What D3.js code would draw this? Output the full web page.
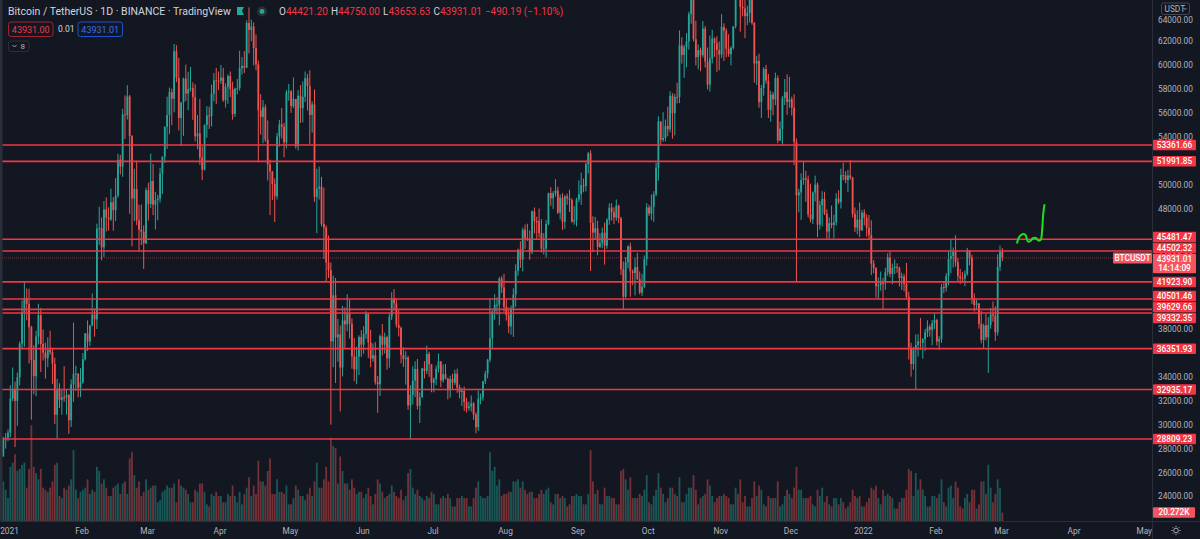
<!DOCTYPE html>
<meta charset="utf-8">
<style>
    body { margin: 0; background: #131722; }
    svg { display: block; }
    text { font-family: Roboto, "Noto Sans", sans-serif; }
    .tick-label { font-size: 8.3px; fill: #b2b5be; }
    .box-label { font-size: 8.3px; fill: #ffffff; font-weight: 500; }
    .legend { font-size: 10.5px; fill: #d1d4dc; }
</style>
<svg width="1200" height="539"></svg>
<script src="https://d3js.org/d3.v7.min.js"></script>
<script>
    // BTC/USDT daily, Binance, 30 Dec 2020 .. 2 Mar 2022 (values in thousand USDT)
    const startDay = "2020-12-30";
    const firstOpen = 27.36;

    const closes = [
        28.88, 28.92,
        29.33,32.18,33.00,31.99,33.95,36.77,39.43,40.58,40.09,38.15,35.40,34.05,37.37,39.14,36.74,36.02,35.55,36.25,36.06,35.07,30.83,33.01,32.07,32.29,32.25,32.47,30.37,33.36,34.25,34.26,33.09,
        33.53,35.47,37.62,36.94,38.29,39.19,38.80,46.37,46.42,44.81,47.97,47.29,47.15,48.58,47.91,49.13,52.12,51.55,55.91,55.84,57.41,54.09,48.89,49.68,47.07,46.28,46.11,45.14,
        49.59,48.44,50.35,48.37,48.75,48.88,50.97,52.38,54.88,55.85,57.77,57.22,61.19,58.97,55.61,56.90,58.91,57.65,58.03,58.10,57.35,54.08,54.34,52.30,51.29,55.03,55.82,55.78,57.64,58.75,58.74,
        58.72,58.98,57.09,58.22,59.12,58.02,55.95,58.05,58.10,59.77,59.96,59.83,63.55,62.97,63.25,61.46,60.09,56.25,55.70,56.51,53.81,51.73,51.15,50.11,49.08,54.06,55.07,54.88,53.58,57.75,
        57.83,56.61,57.21,53.24,57.47,56.43,57.38,58.93,58.28,55.86,56.75,49.01,49.72,49.88,46.76,46.46,43.54,42.91,36.96,40.80,37.29,37.54,34.77,38.71,38.38,39.29,38.44,35.70,34.62,35.68,37.33,
        36.69,37.57,39.25,36.86,35.52,35.80,33.55,33.38,37.39,36.68,37.31,35.55,39.02,40.52,40.14,38.35,38.09,35.82,35.48,35.60,31.61,32.51,33.68,34.66,31.58,32.28,34.70,34.49,35.91,35.05,
        33.50,33.79,34.67,35.29,33.69,34.22,33.86,32.88,33.82,33.50,34.26,33.09,32.73,32.82,31.88,31.38,31.52,31.78,30.84,29.79,32.14,32.29,33.63,34.26,35.43,37.21,39.46,40.02,40.02,42.21,41.46,
        39.85,39.15,38.21,39.72,40.86,42.84,44.61,43.79,46.29,45.59,45.51,44.40,47.81,47.01,46.99,46.00,44.70,44.71,46.76,49.34,48.91,49.32,49.55,47.71,48.96,46.94,49.06,48.90,48.77,46.97,47.10,
        48.81,49.25,50.00,49.92,51.76,52.66,46.86,46.05,46.40,44.85,45.17,46.03,44.94,47.11,48.12,47.74,47.30,48.29,47.24,42.99,40.69,43.57,44.90,42.81,42.67,43.16,42.15,41.03,41.52,43.82,
        48.14,47.63,48.20,49.22,51.47,55.32,53.79,53.95,54.95,54.66,57.47,56.01,57.37,57.35,61.67,60.88,61.53,62.01,64.28,66.00,62.19,60.69,61.29,60.85,63.08,60.33,58.41,60.58,62.25,61.86,61.30,
        60.91,63.22,62.90,61.40,60.94,61.47,63.27,67.53,66.95,64.88,64.77,64.12,64.38,65.47,63.56,60.16,60.37,56.94,58.12,59.70,58.73,56.29,57.57,57.17,58.96,53.73,54.72,57.27,57.78,56.95,
        57.18,56.48,53.60,49.15,49.40,50.44,50.59,50.47,47.55,47.14,49.39,50.05,46.70,48.34,48.86,47.63,46.13,46.83,46.68,46.91,48.89,48.59,50.84,50.82,50.43,50.81,50.64,47.59,46.46,47.12,46.22,
        47.72,47.29,46.45,45.83,43.45,43.08,41.57,41.68,41.86,41.82,42.74,43.95,42.59,43.10,43.18,43.11,42.25,42.37,41.74,40.68,36.45,35.07,36.28,36.65,36.95,36.85,37.14,37.71,38.17,37.92,38.50,
        38.74,36.95,37.15,41.50,41.44,42.41,43.84,44.08,44.44,43.57,42.41,42.24,42.20,42.59,44.58,43.96,40.54,40.00,40.12,38.43,37.08,38.29,37.30,38.33,39.21,39.11,37.71,43.19,
        44.4212, 43.93101
    ];

    const highs = [
        28.99, 29.30,
        29.60,33.30,34.78,33.60,34.36,36.94,40.37,41.95,41.38,41.35,38.26,36.63,37.85,40.10,39.75,37.95,36.85,37.30,37.85,36.42,35.60,33.83,33.46,32.94,34.88,32.92,32.56,33.78,38.53,34.93,34.29,
        34.72,35.98,37.66,38.71,38.31,40.96,39.70,46.79,48.20,47.31,48.68,48.98,48.15,49.71,49.00,50.60,52.62,52.53,56.37,57.50,58.35,57.53,54.18,51.37,52.04,48.37,48.39,46.64,
        49.79,50.20,52.64,51.77,49.45,49.20,51.45,52.40,54.90,57.39,58.15,58.06,61.79,61.69,60.63,56.94,58.98,60.07,59.47,59.88,58.59,58.43,55.86,57.20,53.25,55.08,56.60,56.56,58.40,59.37,59.80,
        59.49,60.04,59.79,58.50,59.25,59.50,58.65,58.15,58.87,61.22,60.69,61.20,63.77,64.85,63.82,63.59,62.57,60.41,57.60,57.11,56.75,55.41,52.13,51.17,50.57,54.36,55.46,56.43,55.20,57.96,
        58.46,57.95,59.00,57.20,57.94,58.36,58.65,59.50,59.30,59.60,57.00,58.00,51.37,51.56,50.70,49.80,46.64,45.80,43.55,42.45,42.25,38.83,38.27,39.92,39.80,40.90,40.41,38.87,37.24,36.49,37.47,
        37.90,38.23,39.48,39.29,37.92,36.79,36.90,34.07,37.53,38.40,37.69,37.44,39.32,41.06,41.33,40.53,39.56,38.20,36.46,36.14,35.75,33.30,34.88,35.30,35.49,32.70,34.75,35.30,36.60,36.10,
        35.04,33.94,34.95,35.94,35.29,35.04,35.06,33.92,34.10,34.26,34.59,34.68,33.34,33.11,33.18,32.25,31.94,32.44,31.90,31.03,32.86,32.60,33.65,34.50,35.50,40.55,39.54,40.90,40.64,42.32,42.41,
        42.60,40.45,39.78,39.95,41.38,43.39,44.70,45.31,46.46,46.72,46.78,46.22,47.89,48.14,47.37,48.05,47.16,46.00,47.08,49.38,49.83,49.50,50.50,49.88,49.23,49.34,49.17,49.30,49.63,48.91,48.25,
        48.95,50.40,51.05,50.56,51.90,52.78,52.92,47.40,47.35,47.03,45.99,46.46,46.88,47.25,48.48,48.50,48.16,48.81,48.37,47.35,43.64,44.00,44.98,45.20,42.97,43.94,44.35,42.79,42.60,44.13,
        48.50,48.36,49.23,49.50,51.89,55.75,55.33,56.10,55.49,56.56,57.84,57.68,57.63,58.55,62.93,62.35,61.72,62.70,64.49,67.00,66.64,63.73,61.75,61.49,63.71,63.29,61.50,62.50,62.98,62.35,62.44,
        62.00,64.27,63.52,63.09,62.60,61.60,63.29,67.79,68.53,69.00,65.58,65.46,64.99,65.50,66.40,63.62,60.80,60.98,58.37,59.86,60.05,59.29,57.88,57.77,59.40,59.18,55.33,57.45,58.87,59.25,
        59.05,57.40,57.60,53.90,49.70,51.00,51.94,51.20,50.80,50.13,49.48,50.80,50.22,48.70,49.50,49.45,47.99,47.31,48.30,47.54,49.33,49.58,51.38,51.87,51.16,51.28,52.09,50.70,48.14,47.90,48.55,
        47.94,47.99,47.57,47.51,47.07,43.75,43.15,42.30,42.79,42.25,43.10,44.32,44.46,43.45,43.80,43.48,43.20,42.70,42.59,43.51,41.10,36.84,36.50,37.55,37.55,38.92,37.23,38.00,38.72,38.36,38.74,
        39.27,38.85,37.39,41.76,41.94,42.66,44.50,45.49,44.80,45.82,43.92,43.00,42.76,42.88,44.77,44.58,44.20,40.97,40.48,40.16,39.49,38.43,39.25,38.97,39.73,40.30,39.88,44.23,
        44.95, 44.75
    ];

    const lows = [
        27.32, 28.00,
        28.62,28.95,31.96,28.13,29.90,33.29,36.30,36.50,38.72,35.11,30.42,32.53,32.38,36.70,34.41,35.36,33.85,34.81,35.84,33.40,30.07,28.85,31.39,30.83,31.91,30.84,29.24,29.81,31.92,32.83,32.30,
        32.30,33.42,35.36,36.16,36.57,38.22,37.35,37.99,45.02,43.73,43.99,46.13,46.20,47.01,46.20,47.00,48.95,50.90,50.69,53.86,55.48,47.62,44.89,47.00,46.68,44.45,45.00,43.00,
        45.12,47.05,48.10,47.50,46.30,47.07,48.55,49.27,51.85,53.02,54.27,55.01,56.08,58.60,54.57,53.27,54.12,57.03,56.26,57.83,55.45,53.65,53.00,51.70,50.43,51.23,53.96,54.69,54.90,57.00,56.77,
        57.94,58.45,56.96,56.48,56.79,57.36,55.47,55.70,57.60,57.90,59.23,59.37,59.77,61.00,62.02,60.00,59.60,51.92,54.22,53.50,53.61,50.40,47.50,48.75,46.93,48.80,53.22,53.88,52.33,53.07,
        57.05,56.04,56.45,53.05,52.90,55.20,55.24,56.94,56.24,53.40,54.39,48.60,46.00,48.80,46.56,43.83,42.00,42.25,30.00,34.80,33.49,35.26,31.11,34.03,36.42,37.80,37.19,34.68,33.63,33.38,34.15,
        35.67,35.92,37.17,35.57,34.80,35.26,33.34,31.00,32.40,35.78,35.94,34.60,34.76,38.73,39.51,38.12,37.37,35.13,34.82,33.34,31.25,28.81,31.68,32.30,31.27,30.15,32.28,33.86,34.23,34.00,
        32.71,32.70,33.30,34.36,33.13,33.52,33.77,32.11,32.26,33.00,33.31,32.66,32.20,31.55,31.13,31.02,31.18,31.10,30.41,29.28,29.48,31.71,32.00,33.40,33.88,35.21,36.38,38.77,39.20,38.31,41.00,
        39.42,38.69,37.64,37.51,37.33,39.85,42.45,43.10,42.80,44.67,45.35,43.77,44.24,45.97,45.52,45.63,44.38,44.21,43.96,46.65,48.29,48.00,49.05,47.60,47.14,46.25,46.36,48.37,47.76,46.85,46.70,
        46.56,48.60,48.36,49.41,49.48,50.97,42.84,44.41,45.51,44.15,44.75,44.74,43.37,44.69,46.70,47.04,46.75,47.03,46.83,42.50,39.60,40.57,43.06,40.68,41.65,40.80,42.10,40.89,40.75,41.40,
        43.28,47.43,47.09,46.94,49.07,50.38,53.36,53.62,53.66,54.09,54.41,53.88,54.16,56.82,56.85,60.15,58.96,59.84,61.32,63.48,62.00,60.00,59.68,59.51,60.65,59.82,58.00,57.82,60.17,60.72,59.46,
        59.60,60.62,60.38,60.68,60.72,60.00,61.33,63.09,66.33,62.82,64.10,62.28,63.36,63.58,63.40,58.57,58.37,56.47,55.61,57.47,58.48,55.61,55.30,55.84,56.68,53.50,53.67,53.33,56.70,55.88,
        56.46,55.83,51.68,42.00,47.73,47.10,50.04,48.60,47.32,46.90,46.75,48.64,45.67,46.29,46.55,47.51,45.50,45.55,46.41,45.56,46.62,48.42,48.05,50.41,50.17,49.42,50.45,47.31,46.10,45.90,45.68,
        46.21,46.65,45.70,45.50,42.50,42.65,40.61,40.50,41.20,39.65,41.27,42.45,42.31,41.72,42.58,42.69,41.54,41.25,41.14,40.55,35.44,34.01,34.60,32.92,35.70,36.23,35.51,36.16,37.31,37.35,36.63,
        38.00,36.62,36.25,36.83,40.99,41.12,41.65,42.67,43.12,43.20,42.00,41.75,41.87,41.57,42.43,43.31,40.07,39.45,39.64,38.02,36.80,36.35,37.04,34.32,38.01,38.60,37.00,37.45,
        42.81, 43.65363
    ];

    // volume, thousand BTC
    const volumes = [
        95, 75,
        55,130,140,160,120,125,135,140,80,125,230,130,115,100,125,80,75,70,80,95,135,140,60,55,80,75,85,100,170,75,55,
        70,75,80,100,65,75,70,130,120,90,100,80,60,60,80,85,90,65,90,95,65,150,165,110,80,95,60,70,
        100,75,80,85,85,45,50,70,75,85,80,80,90,45,100,85,80,75,65,45,45,75,70,90,90,70,40,35,65,60,70,
        60,60,45,45,65,60,85,60,45,70,40,65,80,105,60,85,65,145,95,95,85,120,150,65,65,100,70,70,65,85,
        40,40,55,85,75,60,60,50,65,80,60,95,140,80,80,100,130,95,200,180,175,90,155,120,90,90,75,100,80,65,70,
        70,55,65,80,60,40,65,100,90,70,55,60,65,85,70,60,55,75,50,60,115,125,80,65,75,60,55,50,60,55,
        70,65,40,40,55,60,55,65,55,35,35,55,55,60,55,55,35,35,55,80,95,60,55,55,60,165,120,130,85,100,60,
        65,65,70,70,95,95,100,80,95,75,65,70,70,55,55,65,75,65,75,80,45,40,65,65,55,60,55,35,40,60,60,
        65,60,60,40,40,65,170,95,65,75,40,40,80,60,60,55,55,40,40,120,125,100,75,105,55,55,55,65,60,75,
        110,45,40,60,75,115,80,65,45,55,80,80,65,60,105,45,45,65,80,80,110,75,40,55,60,65,100,85,60,45,55,
        60,60,65,60,55,40,40,80,65,100,45,60,35,35,55,95,60,85,75,40,35,60,55,55,55,95,35,40,60,75,
        65,55,80,130,75,75,55,55,55,60,40,35,75,60,80,45,60,40,35,55,55,40,55,45,30,35,45,75,60,55,60,
        35,35,45,55,80,75,85,55,40,75,60,65,60,55,30,30,45,55,55,75,125,120,60,115,75,100,75,60,35,35,60,
        60,55,65,100,45,35,80,85,55,95,80,35,30,55,65,45,75,75,30,40,95,95,65,135,80,45,65,100,
        80, 20.272
    ];

    // drawn horizontal levels
    const levels = [53361.66, 51991.85, 45481.47, 44502.32, 41923.90, 40501.46, 39629.66, 39332.35, 36351.93, 32935.17, 28809.23];
    const lastPrice = 43931.01;
    const countdown = "14:14:09";
    const priceTicks = d3.range(24000, 64001, 2000);

    // green hand-drawn projection: [days after last bar, price]
    const doodle = [[6.3,45200],[7.3,45700],[8.8,45930],[9.9,45840],[11.0,45280],[12.0,45340],[13.1,45570],
                    [14.3,45590],[15.5,45370],[16.4,45430],[17.0,46260],[17.5,47650],[18.0,48350]];

    const svg = d3.select("svg"),
        width = 1200, height = 539,
        plotW = 1152, plotH = 521;

    const up = "#26a69a", down = "#ef5350", red = "#f23645";

    const start = new Date(startDay + "T00:00:00Z");
    const bars = closes.map((c, i) => ({
        date: d3.utcDay.offset(start, i),
        o: (i === 0 ? firstOpen : closes[i - 1]) * 1000,
        h: highs[i] * 1000,
        l: lows[i] * 1000,
        c: c * 1000,
        v: volumes[i] * 1000
    }));

    const x = d3.scaleUtc()
        .domain([new Date("2021-01-01T00:00:00Z"), new Date("2022-03-01T00:00:00Z")])
        .range([8, 1000]);
    const y = d3.scaleLinear().domain([22000, 62000]).range([520.5, 41.5]);
    const yVol = d3.scaleLinear().domain([0, 240000]).range([plotH, plotH - 100]);

    svg.append("rect").attr("width", width).attr("height", height).attr("fill", "#131722");

    svg.append("clipPath").attr("id", "plot")
        .append("rect").attr("width", plotW).attr("height", plotH);
    const g = svg.append("g").attr("clip-path", "url(#plot)");

    // volume
    g.append("g").selectAll("rect")
        .data(bars)
        .join("rect")
        .attr("x", d => x(d.date) - 0.9)
        .attr("width", 1.8)
        .attr("y", d => yVol(d.v))
        .attr("height", d => plotH - yVol(d.v))
        .attr("fill", d => d.c >= d.o ? up : down)
        .attr("opacity", 0.45);

    // candles
    const candle = g.append("g").selectAll("g")
        .data(bars)
        .join("g")
        .attr("fill", d => d.c >= d.o ? up : down)
        .attr("stroke", d => d.c >= d.o ? up : down);
    candle.append("line")
        .attr("x1", d => x(d.date)).attr("x2", d => x(d.date))
        .attr("y1", d => y(d.h)).attr("y2", d => y(d.l))
        .attr("stroke-width", 1);
    candle.append("rect")
        .attr("stroke", "none")
        .attr("x", d => x(d.date) - 0.9)
        .attr("width", 1.8)
        .attr("y", d => y(Math.max(d.o, d.c)))
        .attr("height", d => Math.max(1, Math.abs(y(d.o) - y(d.c))));

    // levels
    g.append("g").selectAll("line")
        .data(levels)
        .join("line")
        .attr("x1", 0).attr("x2", plotW)
        .attr("y1", d => y(d)).attr("y2", d => y(d))
        .attr("stroke", red)
        .attr("stroke-width", 1.6);

    g.append("line")
        .attr("x1", 0).attr("x2", plotW)
        .attr("y1", y(lastPrice)).attr("y2", y(lastPrice))
        .attr("stroke", red).attr("stroke-opacity", 0.55)
        .attr("stroke-dasharray", "1,1");

    const lastDate = bars[bars.length - 1].date;
    g.append("path")
        .datum(doodle)
        .attr("fill", "none")
        .attr("stroke", "#1ee01e")
        .attr("stroke-width", 2)
        .attr("stroke-linecap", "round")
        .attr("d", d3.line()
            .curve(d3.curveCatmullRom)
            .x(d => x(new Date(+lastDate + d[0] * 864e5)))
            .y(d => y(d[1])));

    // left edge strip
    svg.append("rect").attr("width", 2.5).attr("height", plotH).attr("fill", "#2a2e39");

    // price scale
    svg.append("line")
        .attr("x1", plotW + 0.5).attr("x2", plotW + 0.5)
        .attr("y1", 0).attr("y2", height)
        .attr("stroke", "#2a2e39");

    const labels = levels.map(v => ({ lines: [d3.format(".2f")(v)], y: y(v), h: 10.5, fill: red }));
    labels.push({ lines: [d3.format(".2f")(lastPrice), countdown], y: y(lastPrice), h: 19.5, fill: "#f7525f" });
    labels.sort((a, b) => a.y - b.y);
    for (let k = 0; k < 80; k++) {
        for (let i = 1; i < labels.length; i++) {
            const a = labels[i - 1], b = labels[i];
            const overlap = (a.y + a.h / 2) - (b.y - b.h / 2) + 0.5;
            if (overlap > 0) { a.y -= overlap / 2; b.y += overlap / 2; }
        }
    }

    // tick labels, the top one sits under the currency selector
    svg.append("g").selectAll("text")
        .data(priceTicks.filter(t => labels.every(l => Math.abs(l.y - y(t)) > 5.5)))
        .join("text")
        .attr("class", "tick-label")
        .attr("x", 1158)
        .attr("y", d => y(d) > 20 ? y(d) : 20.5)
        .attr("dy", "0.35em")
        .text(d => d3.format(".2f")(d));

    const lab = svg.append("g").selectAll("g")
        .data(labels)
        .join("g")
        .attr("transform", d => `translate(1153,${d.y - d.h / 2})`);
    lab.append("rect")
        .attr("width", 43).attr("height", d => d.h)
        .attr("rx", 1)
        .attr("fill", d => d.fill);
    lab.selectAll("text")
        .data(d => d.lines)
        .join("text")
        .attr("class", "box-label")
        .attr("x", 21.5)
        .attr("y", (d, i) => 5.3 + i * 9)
        .attr("dy", "0.35em")
        .attr("text-anchor", "middle")
        .text(d => d);

    // symbol tag on the price line
    const tag = svg.append("g").attr("transform", `translate(1113,${y(lastPrice) - 5.5})`);
    tag.append("rect").attr("width", 39).attr("height", 11).attr("rx", 1).attr("fill", "#f7525f");
    tag.append("text").attr("class", "box-label").attr("x", 19.5).attr("y", 5.5).attr("dy", "0.35em")
        .attr("text-anchor", "middle").text("BTCUSDT");

    // volume tag
    const lastVol = bars[bars.length - 1].v;
    const vtag = svg.append("g").attr("transform", `translate(1153,${yVol(lastVol) - 5.25})`);
    vtag.append("rect").attr("width", 42).attr("height", 10.5).attr("rx", 1).attr("fill", "#f7525f");
    vtag.append("text").attr("class", "box-label").attr("x", 21).attr("y", 5.25).attr("dy", "0.35em")
        .attr("text-anchor", "middle").text(d3.format(".3f")(lastVol / 1000) + "K");

    // currency selector
    const cur = svg.append("g").attr("transform", "translate(1161.5,3)");
    cur.append("rect").attr("width", 28).attr("height", 11.5).attr("rx", 2)
        .attr("fill", "#131722").attr("stroke", "#434651");
    cur.append("text").attr("class", "tick-label").attr("x", 3).attr("y", 6).attr("dy", "0.35em").text("USDT");
    cur.append("path").attr("d", "M22,5 l1.5,1.5 l1.5,-1.5").attr("fill", "none").attr("stroke", "#b2b5be").attr("stroke-width", 0.8);

    // time scale
    svg.append("line")
        .attr("x1", 0).attr("x2", width)
        .attr("y1", plotH + 0.5).attr("y2", plotH + 0.5)
        .attr("stroke", "#2a2e39");
    const months = d3.utcMonth.range(new Date("2021-01-01T00:00:00Z"), new Date("2022-05-02T00:00:00Z"));
    svg.append("g").selectAll("text")
        .data(months)
        .join("text")
        .attr("class", "tick-label")
        .attr("x", d => x(d) + 1.5)
        .attr("y", 531)
        .attr("dy", "0.35em")
        .attr("text-anchor", "middle")
        .text(d => d.getUTCMonth() === 0 ? d3.utcFormat("%Y")(d) : d3.utcFormat("%b")(d));

    // settings gear
    const gear = svg.append("g").attr("transform", "translate(1176,530.5)")
        .attr("stroke", "#b2b5be").attr("fill", "none").attr("stroke-width", 0.9);
    gear.append("circle").attr("r", 2.3);
    gear.selectAll("line").data(d3.range(8)).join("line")
        .attr("x1", d => 3.3 * Math.cos(d * Math.PI / 4)).attr("y1", d => 3.3 * Math.sin(d * Math.PI / 4))
        .attr("x2", d => 4.6 * Math.cos(d * Math.PI / 4)).attr("y2", d => 4.6 * Math.sin(d * Math.PI / 4));

    // legend
    const fmt = d3.format(".2f");
    const lb = bars[bars.length - 1];
    svg.append("text").attr("class", "legend").attr("x", 8).attr("y", 15)
        .text("Bitcoin / TetherUS · 1D · BINANCE · TradingView");
    svg.append("path").attr("d", "M237,7 h7 l-2,4 l2,4 h-7 z").attr("fill", "#22ab94");
    svg.append("circle").attr("cx", 262).attr("cy", 11.5).attr("r", 5).attr("fill", "#2a2e39");
    svg.append("circle").attr("cx", 262).attr("cy", 11.5).attr("r", 2.4).attr("fill", "#22ab94");

    const ohlc = svg.append("text").attr("class", "legend").attr("x", 279).attr("y", 15)
        .style("font-size", "10px");
    [["O", fmt(lb.o)], ["H", fmt(lb.h)], ["L", fmt(lb.l)], ["C", fmt(lb.c)]].forEach(([k, v], i) => {
        ohlc.append("tspan").attr("dx", i ? 3 : 0).attr("fill", "#d1d4dc").text(k);
        ohlc.append("tspan").attr("fill", red).text(v);
    });
    const chg = lb.c - lb.o;
    ohlc.append("tspan").attr("dx", 3).attr("fill", red)
        .text("\u2212" + fmt(Math.abs(chg)) + " (\u2212" + fmt(Math.abs(chg / lb.o * 100)) + "%)");

    const bid = svg.append("g").attr("transform", "translate(8.5,22)");
    bid.append("rect").attr("width", 44.5).attr("height", 14.5).attr("rx", 2.5)
        .attr("fill", "none").attr("stroke", "#a0252f");
    bid.append("text").attr("x", 22.25).attr("y", 7.5).attr("dy", "0.35em").attr("text-anchor", "middle")
        .style("font-size", "9px").attr("fill", red).text("43931.00");
    svg.append("text").attr("x", 58).attr("y", 29.5).attr("dy", "0.35em")
        .style("font-size", "8.5px").attr("fill", "#d1d4dc").text("0.01");
    const ask = svg.append("g").attr("transform", "translate(78,22)");
    ask.append("rect").attr("width", 44.5).attr("height", 14.5).attr("rx", 2.5)
        .attr("fill", "none").attr("stroke", "#2151d1");
    ask.append("text").attr("x", 22.25).attr("y", 7.5).attr("dy", "0.35em").attr("text-anchor", "middle")
        .style("font-size", "9px").attr("fill", "#3d6cf0").text("43931.01");

    const ind = svg.append("g").attr("transform", "translate(8.5,41)");
    ind.append("rect").attr("width", 20.5).attr("height", 10.5).attr("rx", 2)
        .attr("fill", "#131722").attr("stroke", "#2a2e39");
    ind.append("path").attr("d", "M4,4 l2,2 l2,-2").attr("fill", "none").attr("stroke", "#b2b5be").attr("stroke-width", 0.9);
    ind.append("text").attr("x", 12).attr("y", 5.5).attr("dy", "0.35em")
        .style("font-size", "8px").attr("fill", "#b2b5be").text("8");
</script>
